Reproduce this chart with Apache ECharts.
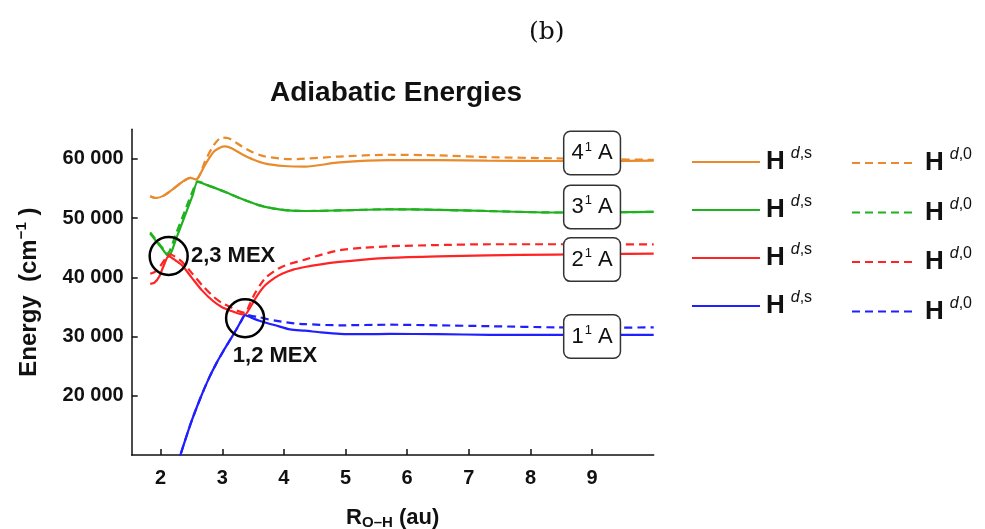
<!DOCTYPE html>
<html>
<head>
<meta charset="utf-8">
<script src="https://cdn.jsdelivr.net/npm/echarts@6/dist/echarts.min.js"></script>
<style>html,body{margin:0;padding:0;background:#fff}#c{width:985px;height:529px}</style>
</head>
<body>
<div id="c"></div>
<script>
// ---- data (R_O-H in au, energy in cm^-1) ----
const xTicks = [2, 3, 4, 5, 6, 7, 8, 9];
const yTicks = [20000, 30000, 40000, 50000, 60000];

// 4^1A
const xS4 = [1.83, 1.92, 2.05, 2.2, 2.35, 2.48, 2.58, 2.65, 2.72, 2.86, 2.96, 3.05, 3.15, 3.32, 3.5, 3.7, 4.0, 4.34, 4.9, 5.7, 6.5, 7.3, 8.4, 9.2, 10];
const yS4 = [53700, 53400, 53800, 54900, 56100, 56800, 56500, 57600, 59000, 61200, 61900, 62100, 61800, 60800, 59900, 59200, 58800, 58700, 59400, 59800, 59800, 59700, 59650, 59650, 59700];
const xD4 = [1.83, 1.92, 2.05, 2.2, 2.35, 2.48, 2.58, 2.64, 2.72, 2.86, 2.99, 3.1, 3.32, 3.5, 3.7, 4.1, 4.9, 5.7, 6.5, 7.3, 8.4, 9.2, 10];
const yD4 = [53700, 53400, 53800, 54900, 56100, 56800, 56600, 57400, 59600, 62300, 63600, 63500, 62100, 61100, 60400, 59950, 60400, 60700, 60600, 60300, 60100, 59950, 59850];

// 3^1A
const xS3 = [1.83, 1.95, 2.05, 2.13, 2.25, 2.4, 2.52, 2.6, 2.8, 3.05, 3.3, 3.59, 3.8, 4.02, 4.34, 4.9, 5.7, 6.5, 7.3, 8.4, 9.2, 10];
const yS3 = [47400, 45800, 44500, 43500, 46500, 50600, 53900, 56100, 55400, 54400, 53300, 52200, 51700, 51350, 51200, 51300, 51500, 51400, 51200, 50950, 51000, 51050];
const xD3 = [1.83, 1.95, 2.05, 2.11, 2.25, 2.4, 2.52, 2.6, 2.8, 3.05, 3.3, 3.59, 3.8, 4.02, 4.34, 4.9, 5.7, 6.5, 7.3, 8.4, 9.2, 10];
const yD3 = [47600, 46000, 44700, 44000, 47400, 51400, 54600, 56200, 55400, 54400, 53300, 52200, 51700, 51350, 51200, 51300, 51500, 51400, 51200, 50950, 51000, 51050];

// 2^1A
const xS2 = [1.83, 1.9, 1.98, 2.05, 2.13, 2.25, 2.35, 2.5, 2.67, 2.85, 2.99, 3.15, 3.26, 3.37, 3.45, 3.53, 3.62, 3.7, 3.85, 3.97, 4.15, 4.34, 4.6, 4.9, 5.3, 5.7, 6.5, 7.3, 8.4, 9.2, 10];
const yS2 = [38900, 39100, 40200, 42000, 43600, 42800, 42000, 40000, 37800, 36000, 35000, 34300, 33900, 33700, 34900, 36300, 37700, 38700, 39900, 40600, 41300, 41750, 42200, 42600, 43000, 43300, 43550, 43700, 43850, 43950, 44000];
const xD2 = [1.83, 1.92, 2.0, 2.08, 2.15, 2.25, 2.35, 2.5, 2.67, 2.85, 2.99, 3.15, 3.26, 3.37, 3.45, 3.53, 3.62, 3.7, 3.85, 3.97, 4.1, 4.34, 4.6, 4.91, 5.3, 5.72, 6.5, 7.34, 8.42, 9.2, 10];
const yD2 = [40600, 41000, 42000, 43200, 43900, 43400, 42600, 40800, 38700, 36800, 35700, 34900, 34300, 34000, 35600, 37300, 38800, 39900, 41100, 41800, 42300, 43000, 43800, 44600, 45000, 45250, 45450, 45590, 45590, 45580, 45560];

// 1^1A
const xS1 = [2.2, 2.32, 2.48, 2.64, 2.78, 2.91, 3.02, 3.13, 3.24, 3.32, 3.37, 3.47, 3.59, 3.75, 3.86, 4.1, 4.34, 4.6, 4.91, 5.3, 5.72, 6.5, 7.34, 8.42, 9.2, 10];
const yS1 = [6200, 10000, 15100, 19500, 22900, 25600, 27600, 29500, 31400, 32900, 33600, 33200, 32700, 32200, 31900, 31200, 31000, 30700, 30450, 30400, 30450, 30400, 30300, 30290, 30290, 30290];
const xD1 = [2.2, 2.32, 2.48, 2.64, 2.78, 2.91, 3.02, 3.13, 3.24, 3.32, 3.37, 3.47, 3.59, 3.75, 3.86, 4.1, 4.34, 4.91, 5.72, 6.5, 7.34, 8.42, 9.2, 10];
const yD1 = [6200, 10000, 15100, 19500, 22900, 25600, 27600, 29500, 31400, 32900, 33700, 33500, 33300, 32900, 32700, 32300, 32100, 31900, 32000, 31900, 31750, 31550, 31500, 31550];

// MEX markers
const mexX = [2.13, 3.37];
const mexY = [43600, 33100];
const mexNames = ['2,3 MEX', '1,2 MEX'];

// state labels
const stateNum = ['4', '3', '2', '1'];
const stateX = [9, 9, 9, 9];
const stateY = [61000, 51900, 43000, 30000];

const colors = { c4: '#e98a2c', c3: '#1fb21f', c2: '#ff2424', c1: '#1f1fff' };

// ---- chart ----
const zip = (xs, ys) => xs.map((x, i) => [x, ys[i]]);
const FF = "'Liberation Sans', Arial, sans-serif";
const chart = echarts.init(document.getElementById('c'), null, { renderer: 'canvas' });

function lineSeries(name, xs, ys, color, dashed) {
  return {
    name, type: 'line', data: zip(xs, ys), showSymbol: false, symbol: 'none',
    smooth: 0.25, smoothMonotone: 'none', clip: true, z: dashed ? 3 : 2,
    lineStyle: { color, width: 2.2, type: dashed ? [8, 5] : 'solid' },
    itemStyle: { color }, emphasis: { disabled: true }
  };
}

const legendRich = {
  H: { fontFamily: FF, fontWeight: 'bold', fontSize: 26, color: '#111', lineHeight: 30 },
  d: { fontFamily: FF, fontStyle: 'italic', fontSize: 16, color: '#111', padding: [0, 0, 16, 6] },
  s: { fontFamily: FF, fontSize: 16, color: '#111', padding: [0, 0, 16, 0] }
};

const option = {
  animation: false,
  backgroundColor: '#fff',
  title: [
    { text: 'Adiabatic Energies', left: 391, top: 74, textAlign: 'center',
      textStyle: { fontFamily: FF, fontWeight: 'bold', fontSize: 28, color: '#111' } },
    { text: '(b)', left: 524, top: 15,
      textStyle: { fontFamily: "'DejaVu Serif', 'Liberation Serif', serif", fontWeight: 'normal', fontSize: 25, color: '#111' } }
  ],
  grid: { left: 131.7, right: 331.3, top: 129.3, bottom: 74, containLabel: false, outerBoundsMode: 'none' },
  legend: [
    { orient: 'vertical', left: 686, top: 141, itemWidth: 68, itemHeight: 14, itemGap: 19,
      data: ['s4', 's3', 's2', 's1'], selectedMode: false,
      itemStyle: { opacity: 0 },
      formatter: () => '{H|H}{d|d}{s|,s}',
      textStyle: { rich: legendRich, padding: [0, 0, 0, 1] } },
    { orient: 'vertical', left: 846, top: 142, itemWidth: 64, itemHeight: 14, itemGap: 20.5,
      data: ['d4', 'd3', 'd2', 'd1'], selectedMode: false,
      itemStyle: { opacity: 0 },
      formatter: () => '{H|H}{d|d}{s|,0}',
      textStyle: { rich: legendRich, padding: [0, 0, 0, 4] } }
  ],
  xAxis: {
    type: 'value', min: 1.53, max: 10,
    name: '{R|R}{sub|O–H}{R| (au)}', nameLocation: 'middle', nameGap: 50,
    nameTextStyle: { rich: {
      R: { fontFamily: FF, fontWeight: 'bold', fontSize: 22, color: '#111' },
      sub: { fontFamily: FF, fontWeight: 'bold', fontSize: 15, color: '#111', padding: [10, 0, 0, 0] }
    } },
    axisLine: { show: true, onZero: false, lineStyle: { color: '#111', width: 1.5 } },
    axisTick: { show: true, inside: true, length: 6, customValues: xTicks, lineStyle: { color: '#111', width: 1.5 } },
    axisLabel: { customValues: xTicks, margin: 13, fontFamily: FF, fontWeight: 'bold', fontSize: 20, color: '#111' },
    splitLine: { show: false }
  },
  yAxis: {
    type: 'value', min: 10000, max: 65000,
    name: '{E|Energy  (cm}{sup|−1}{E| )}', nameLocation: 'middle', nameGap: 88, nameRotate: 90,
    nameTextStyle: { rich: {
      E: { fontFamily: FF, fontWeight: 'bold', fontSize: 24, color: '#111' },
      sup: { fontFamily: FF, fontWeight: 'bold', fontSize: 15, color: '#111', padding: [0, 0, 14, 0] }
    } },
    axisLine: { show: true, onZero: false, lineStyle: { color: '#111', width: 1.5 } },
    axisTick: { show: true, inside: true, length: 6, customValues: yTicks, lineStyle: { color: '#111', width: 1.5 } },
    axisLabel: { customValues: yTicks, margin: 8, fontFamily: FF, fontWeight: 'bold', fontSize: 20, color: '#111',
      formatter: v => String(v).replace(/\B(?=(\d{3})+(?!\d))/g, ' ') },
    splitLine: { show: false }
  },
  series: [
    lineSeries('s4', xS4, yS4, colors.c4, false),
    lineSeries('d4', xD4, yD4, colors.c4, true),
    lineSeries('s3', xS3, yS3, colors.c3, false),
    lineSeries('d3', xD3, yD3, colors.c3, true),
    lineSeries('s2', xS2, yS2, colors.c2, false),
    lineSeries('d2', xD2, yD2, colors.c2, true),
    lineSeries('s1', xS1, yS1, colors.c1, false),
    lineSeries('d1', xD1, yD1, colors.c1, true),
    {
      name: 'mex', type: 'scatter', z: 10, symbol: 'circle', symbolSize: 38,
      data: zip(mexX, mexY),
      itemStyle: { color: 'rgba(0,0,0,0)', borderColor: '#000', borderWidth: 2.5, opacity: 1 },
      emphasis: { disabled: true },
      label: {
        show: true, fontFamily: FF, fontWeight: 'bold', fontSize: 22, color: '#111',
        formatter: p => mexNames[p.dataIndex],
        position: 'right', distance: 2, offset: [0, -9]
      },
      labelLayout: p => p.dataIndex === 1 ? { x: p.rect.x + 8, y: p.rect.y + 47 } : {}
    },
    {
      name: 'states', type: 'scatter', z: 20, symbolSize: 0,
      data: zip(stateX, stateY),
      itemStyle: { opacity: 1 },
      emphasis: { disabled: true },
      label: {
        show: true, position: 'inside',
        backgroundColor: '#fff', borderColor: '#333', borderWidth: 1.5, borderRadius: 6,
        padding: [4, 7, 4, 7],
        formatter: p => '{n|' + stateNum[p.dataIndex] + '}{s|1}{a| A}',
        rich: {
          n: { fontFamily: FF, fontSize: 22, color: '#111', lineHeight: 34 },
          s: { fontFamily: FF, fontSize: 13, color: '#111', padding: [0, 0, 12, 1] },
          a: { fontFamily: FF, fontSize: 22, color: '#111' }
        }
      }
    }
  ]
};
chart.setOption(option);
</script>
</body>
</html>
